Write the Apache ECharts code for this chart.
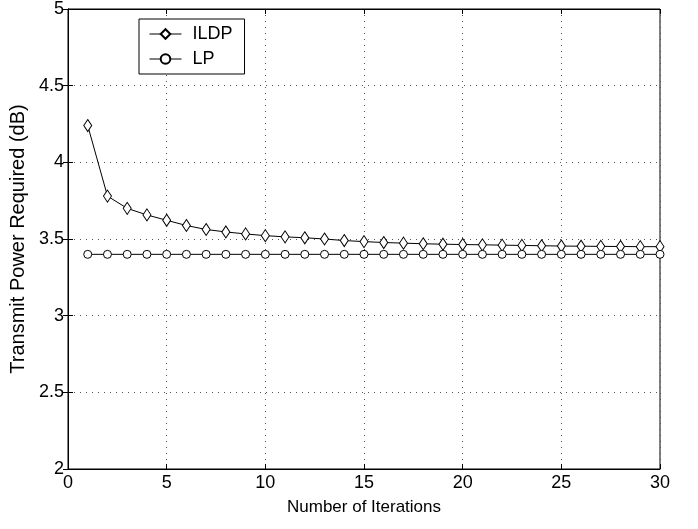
<!DOCTYPE html>
<html>
<head>
<meta charset="utf-8">
<script src="https://cdn.jsdelivr.net/npm/echarts@6/dist/echarts.min.js"></script>
<style>
  html, body { margin: 0; padding: 0; background: #fff; }
  #chart { width: 698px; height: 529px; }
</style>
</head>
<body>
<div id="chart"></div>
<script>
// iterations 1..30
var iterations = [1, 2, 3, 4, 5, 6, 7, 8, 9, 10, 11, 12, 13, 14, 15,
  16, 17, 18, 19, 20, 21, 22, 23, 24, 25, 26, 27, 28, 29, 30];
var ildp = [4.24, 3.78, 3.70, 3.657, 3.622, 3.588, 3.562, 3.546, 3.533, 3.522,
  3.514, 3.508, 3.500, 3.490, 3.483, 3.477, 3.473, 3.469, 3.466, 3.464,
  3.462, 3.460, 3.458, 3.456, 3.454, 3.453, 3.452, 3.451, 3.450, 3.450];
var lp = [3.40, 3.40, 3.40, 3.40, 3.40, 3.40, 3.40, 3.40, 3.40, 3.40,
  3.40, 3.40, 3.40, 3.40, 3.40, 3.40, 3.40, 3.40, 3.40, 3.40,
  3.40, 3.40, 3.40, 3.40, 3.40, 3.40, 3.40, 3.40, 3.40, 3.40];

var font = 'Liberation Sans, Arial, sans-serif';
var dotted = { show: true, lineStyle: { color: '#555', type: [1, 5], width: 1 } };

function pairs(ys) {
  return iterations.map(function (x, i) { return [x, ys[i]]; });
}

var chart = echarts.init(document.getElementById('chart'));
chart.setOption({
  animation: false,
  backgroundColor: '#fff',
  grid: { left: 68, right: 38, top: 6, bottom: 60, show: true, borderColor: '#000', borderWidth: 1 },
  legend: {
    left: 139, top: 19, orient: 'vertical',
    itemWidth: 32, itemHeight: 12, itemGap: 7,
    padding: [6, 12, 6, 10],
    borderColor: '#000', borderWidth: 1, backgroundColor: '#fff',
    lineStyle: { width: 1 },
    textStyle: { fontFamily: font, fontSize: 18, color: '#000', padding: [0, 0, 0, 6] },
    data: ['ILDP', 'LP']
  },
  xAxis: [{
    type: 'value', min: 0, max: 30, interval: 5,
    name: 'Number of Iterations', nameLocation: 'middle', nameGap: 30,
    nameTextStyle: { fontFamily: font, fontSize: 17, color: '#000' },
    axisLine: { lineStyle: { color: '#000' } },
    axisTick: { inside: true, length: 5, lineStyle: { color: '#000' } },
    axisLabel: { fontFamily: font, fontSize: 18, color: '#000', margin: 5 },
    splitLine: dotted
  }, {
    type: 'value', min: 0, max: 30, interval: 5, position: 'top',
    axisLine: { lineStyle: { color: '#000' } },
    axisTick: { inside: true, length: 5, lineStyle: { color: '#000' } },
    axisLabel: { show: false }, splitLine: { show: false }
  }],
  yAxis: [{
    type: 'value', min: 2, max: 5, interval: 0.5,
    name: 'Transmit Power Required (dB)', nameLocation: 'middle', nameGap: 32,
    nameTextStyle: { fontFamily: font, fontSize: 20, color: '#000' },
    axisLine: { show: true, lineStyle: { color: '#000' } },
    axisTick: { show: true, inside: true, length: 5, lineStyle: { color: '#000' } },
    axisLabel: { fontFamily: font, fontSize: 18, color: '#000', margin: 4 },
    splitLine: dotted
  }, {
    type: 'value', min: 2, max: 5, interval: 0.5, position: 'right',
    axisLine: { show: true, lineStyle: { color: '#000' } },
    axisTick: { show: true, inside: true, length: 5, lineStyle: { color: '#000' } },
    axisLabel: { show: false }, splitLine: { show: false }
  }],
  series: [{
    name: 'ILDP', type: 'line', data: pairs(ildp),
    symbol: 'diamond', symbolSize: [8, 12], showAllSymbol: true,
    lineStyle: { color: '#000', width: 1 },
    itemStyle: { color: '#fff', borderColor: '#000', borderWidth: 1 }
  }, {
    name: 'LP', type: 'line', data: pairs(lp),
    symbol: 'circle', symbolSize: 8, showAllSymbol: true,
    lineStyle: { color: '#000', width: 1 },
    itemStyle: { color: '#fff', borderColor: '#000', borderWidth: 1 }
  }]
});
</script>
</body>
</html>
